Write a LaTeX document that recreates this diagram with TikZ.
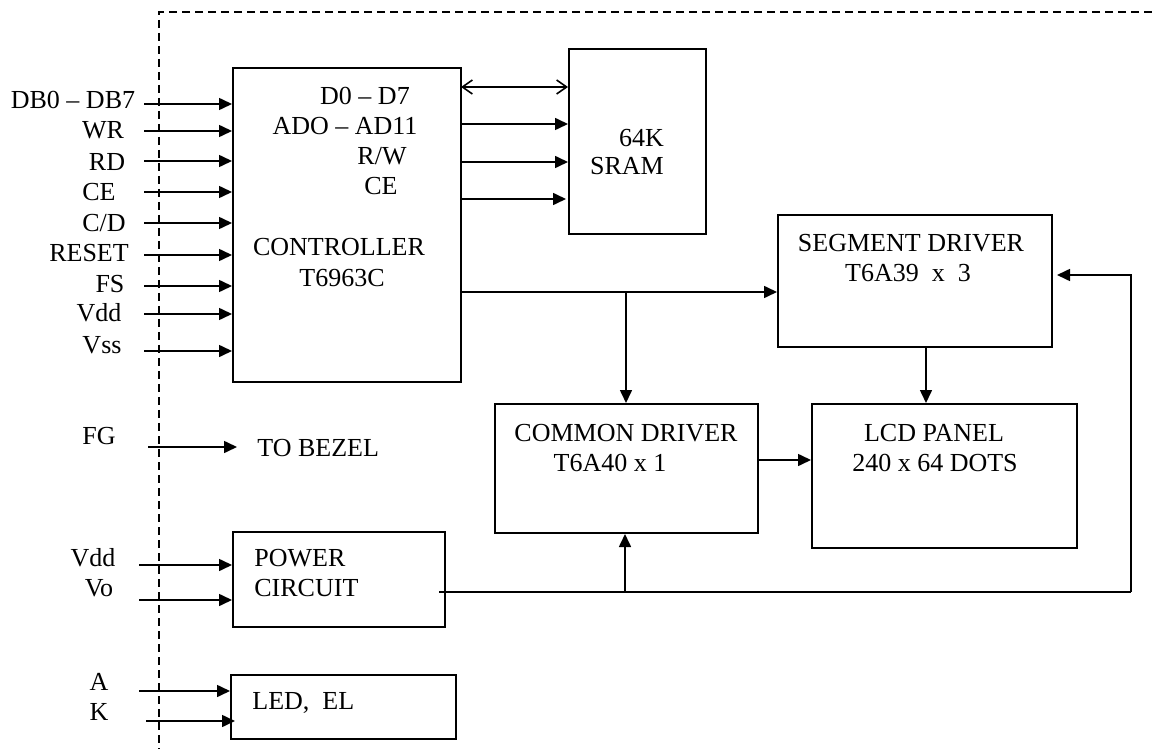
\documentclass[tikz,border=0pt]{standalone}
\usepackage{fontspec}
\setmainfont{Liberation Serif}
\usetikzlibrary{arrows.meta}
\begin{document}
\begin{tikzpicture}[x=0.5pt,y=-0.5pt,
  box/.style={draw, line width=1pt, inner sep=0pt},
  lbl/.style={inner sep=0pt, font=\fontsize{13pt}{15pt}\selectfont},
  ln/.style={line width=0.8pt},
  arr/.style={line width=0.8pt, -{Triangle[length=6.5pt,width=6pt]}},
  bi/.style={line width=0.8pt, {Straight Barb[length=5pt,width=7pt]}-{Straight Barb[length=5pt,width=7pt]}},
  frame/.style={line width=0.9pt, dash pattern=on 4pt off 2.5pt}
]
\useasboundingbox (0,0) rectangle (1152,749);

% dashed module outline
\draw[frame] (1152,12) -- (159,12) -- (159,749);

% boxes
\node[box, minimum width=114pt, minimum height=157pt] (ctrl) at (347,225) {};
\node[box, minimum width=68.5pt, minimum height=92.5pt] (sram) at (637.5,141.5) {};
\node[box, minimum width=137pt, minimum height=66pt] (seg) at (915,281) {};
\node[box, minimum width=131.5pt, minimum height=64.5pt] (com) at (626.5,468.5) {};
\node[box, minimum width=132.5pt, minimum height=72pt] (lcd) at (944.5,476) {};
\node[box, minimum width=106pt, minimum height=47.5pt] (pwr) at (339,579.5) {};
\node[box, minimum width=112.5pt, minimum height=32pt] (led) at (343.5,707) {};

% controller texts
\node[lbl] (tD) at (365,96) {D0 -- D7};
\node[lbl] (tAD) at (345,126) {ADO -- AD11};
\node[lbl] (tRW) at (382,156) {R/W};
\node[lbl] (tCE) at (381,186) {CE};
\node[lbl] (tC1) at (339,247) {CONTROLLER};
\node[lbl] (tC2) at (342,278) {T6963C};

% SRAM texts
\node[lbl] (tS1) at (641.5,138) {64K};
\node[lbl] (tS2) at (627,166) {SRAM};

% segment / common / lcd texts
\node[lbl] (tG1) at (911,243) {SEGMENT DRIVER};
\node[lbl] (tG2) at (908,273) {T6A39\ \ x\ \ 3};
\node[lbl] (tM1) at (626,433) {COMMON DRIVER};
\node[lbl] (tM2) at (610,463) {T6A40 x 1};
\node[lbl] (tL1) at (934,433) {LCD PANEL};
\node[lbl] (tL2) at (935,463) {240 x 64 DOTS};

% power / led texts
\node[lbl, anchor=west] (tP1) at (254,558) {POWER};
\node[lbl, anchor=west] (tP2) at (254,588) {CIRCUIT};
\node[lbl, anchor=west] (tLE) at (252,703) {LED,\ \ EL};
\node[lbl, anchor=west] (tBZ) at (257,448) {TO BEZEL};

% left input labels
\node[lbl] (lDB) at (73,100) {DB0 -- DB7};
\node[lbl] (lWR) at (103,130) {WR};
\node[lbl] (lRD) at (107,162) {RD};
\node[lbl] (lCE) at (99,192) {CE};
\node[lbl] (lCD) at (104,223) {C/D};
\node[lbl] (lRS) at (89,253) {RESET};
\node[lbl] (lFS) at (110,284) {FS};
\node[lbl] (lVD) at (99,313) {Vdd};
\node[lbl] (lVS) at (102,345) {Vss};
\node[lbl] (lFG) at (99,436) {FG};
\node[lbl] (lV2) at (93,558) {Vdd};
\node[lbl] (lVO) at (99,588) {Vo};
\node[lbl] (lA) at (99,682) {A};
\node[lbl] (lK) at (99,712) {K};

% input arrow start points
\coordinate (i1) at (144,104);
\coordinate (i2) at (144,131);
\coordinate (i3) at (144,161);
\coordinate (i4) at (144,192);
\coordinate (i5) at (144,223);
\coordinate (i6) at (144,255);
\coordinate (i7) at (144,286);
\coordinate (i8) at (144,314);
\coordinate (i9) at (144,351);
\foreach \c in {i1,i2,i3,i4,i5,i6,i7,i8,i9}
  \draw[arr] (\c) -- (\c -| ctrl.west);

% FG to bezel
\coordinate (fg0) at (148,447);
\coordinate (fg1) at (237,447);
\draw[arr] (fg0) -- (fg1);

% power inputs
\coordinate (p1) at (139,565);
\coordinate (p2) at (139,600);
\draw[arr] (p1) -- (p1 -| pwr.west);
\draw[arr] (p2) -- (p2 -| pwr.west);

% led inputs
\coordinate (a1) at (139,691);
\coordinate (k1) at (146,721);
\draw[arr] (a1) -- (a1 -| led.west);
\draw[arr] (k1) -- ([xshift=2.5pt]k1 -| led.west);

% controller <-> SRAM
\coordinate (s1) at (461,87);
\coordinate (s2) at (461,124);
\coordinate (s3) at (461,162);
\coordinate (s4) at (461,199);
\draw[bi] (s1) -- (s1 -| sram.west);
\draw[arr] (s2) -- (s2 -| sram.west);
\draw[arr] (s3) -- (s3 -| sram.west);
\draw[arr] (s4) -- ([xshift=-1pt]s4 -| sram.west);

% controller to segment and common driver
\coordinate (c0) at (461,292);
\coordinate (br) at (626,292);
\draw[arr] (c0) -- (c0 -| seg.west);
\draw[arr] (br) -- (br |- com.north);

% segment to LCD
\coordinate (sg) at (926,347);
\draw[arr] (sg) -- (sg |- lcd.north);

% common to LCD
\coordinate (cm) at (758,460);
\draw[arr] (cm) -- (cm -| lcd.west);

% power distribution
\coordinate (pw0) at (439,592);
\coordinate (pw1) at (1131,592);
\coordinate (pw2) at (1131,275);
\coordinate (pb) at (625,592);
\draw[ln] (pw0) -- (pw1);
\draw[arr] (pw1) -- (pw2) -- ([xshift=2pt]pw2 -| seg.east);
\draw[arr] (pb) -- (pb |- com.south);
\end{tikzpicture}
\end{document}
